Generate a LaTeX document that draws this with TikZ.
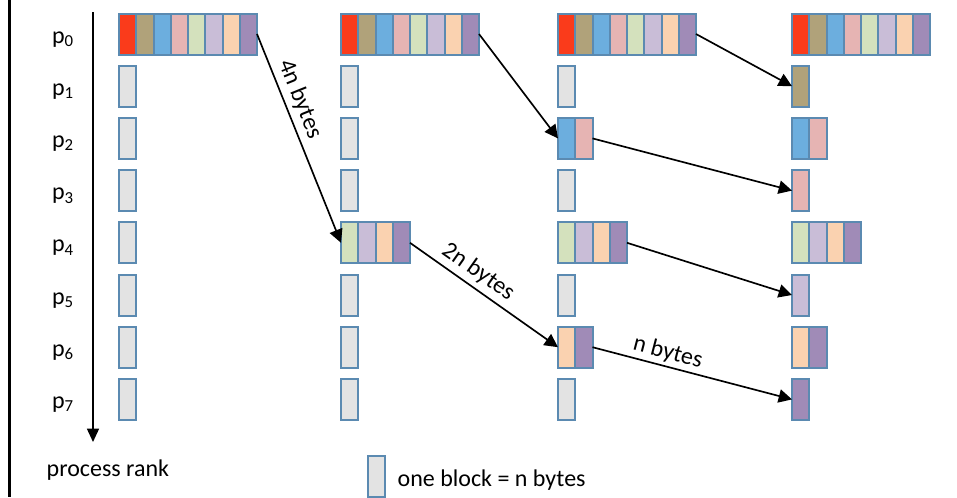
\documentclass[tikz,border=0pt]{standalone}
\usepackage{fontspec}
\setmainfont{Carlito}
\usepackage{xcolor}
\usetikzlibrary{arrows.meta}

\definecolor{blk1}{HTML}{FA3B1B}
\definecolor{blk2}{HTML}{B0A27A}
\definecolor{blk3}{HTML}{6CAEDE}
\definecolor{blk4}{HTML}{E6B4B3}
\definecolor{blk5}{HTML}{D4E1BD}
\definecolor{blk6}{HTML}{C9BDD7}
\definecolor{blk7}{HTML}{FAD2B0}
\definecolor{blk8}{HTML}{A08BB7}
\definecolor{blkgray}{HTML}{E3E3E3}
\definecolor{blkline}{HTML}{5B8AB1}

\begin{document}
\begin{tikzpicture}[x=0.75pt,y=-0.75pt,
	blk/.style={draw=blkline,line width=1.5pt,minimum width=12.94pt,minimum height=30.75pt,
		inner sep=0pt,outer sep=0pt,anchor=west},
	msg/.style={-{Triangle[width=10pt,length=10pt]},line width=1.25pt},
	lbl/.style={font=\fontsize{18}{22}\selectfont}]
		\useasboundingbox (0,0) rectangle (957,497);
		
		% frame and rank axis
		\draw[line width=2.25pt] (9.5,0) -- (9.5,497);
		\coordinate (axtop) at (93,12);
		\coordinate (axbot) at (93,442);
		\draw[-{Triangle[width=9pt,length=10pt]},line width=1.1pt] (axtop) -- (axbot);
		\foreach \r in {0,...,7}
			\node[lbl,anchor=base] (p\r) at (63,{43+52.2*\r}) {p\textsubscript{\r}};
		\node[lbl,anchor=base west] (rank) at (42,476) {process rank};
		
		% full rows of p0
		\foreach \c/\x in {1/119,2/341,3/558,4/792}
			\foreach \k in {1,...,8}
				\node[blk,fill=blk\k] (b\c-0-\k) at ({\x+17.25*(\k-1)},34) {};
		
		% empty blocks
		\foreach \r in {1,...,7}
			\node[blk,fill=blkgray] (b1-\r-0) at (119,{34+52.2*\r}) {};
		\foreach \r in {1,2,3,5,6,7}
			\node[blk,fill=blkgray] (b2-\r-0) at (341,{34+52.2*\r}) {};
		\foreach \r in {1,3,5,7}
			\node[blk,fill=blkgray] (b3-\r-0) at (558,{34+52.2*\r}) {};
		
		% received blocks
		\foreach \c/\x/\r/\first/\last in {2/341/4/5/8,
				3/558/2/3/4, 3/558/4/5/8, 3/558/6/7/8,
				4/792/1/2/2, 4/792/2/3/4, 4/792/3/4/4, 4/792/4/5/8,
				4/792/5/6/6, 4/792/6/7/8, 4/792/7/8/8}
			\foreach \k in {\first,...,\last}
				\node[blk,fill=blk\k] (b\c-\r-\k) at ({\x+17.25*(\k-\first)},{34+52.2*\r}) {};
		
		%
		\path[msg]
		(b1-0-8.east) edge node[lbl,sloped,above,pos=0.34] {4n bytes} (b2-4-5.west)
		(b2-0-8.east) edge (b3-2-3.west)
		(b3-0-8.east) edge (b4-1-2.west)
		(b2-4-8.east) edge node[lbl,sloped,above,pos=0.40] {2n bytes} (b3-6-7.west)
		(b3-2-4.east) edge (b4-3-4.west)
		(b3-4-8.east) edge (b4-5-6.west)
		(b3-6-8.east) edge node[lbl,sloped,above,pos=0.36,inner sep=2pt] {n bytes} (b4-7-8.west);
		
		% legend
		\node[blk,fill=blkgray] (legend) at (368,476) {};
		\node[lbl,anchor=base west] (legtext) at (393,486) {one block = n bytes};
	\end{tikzpicture}
\end{document}
